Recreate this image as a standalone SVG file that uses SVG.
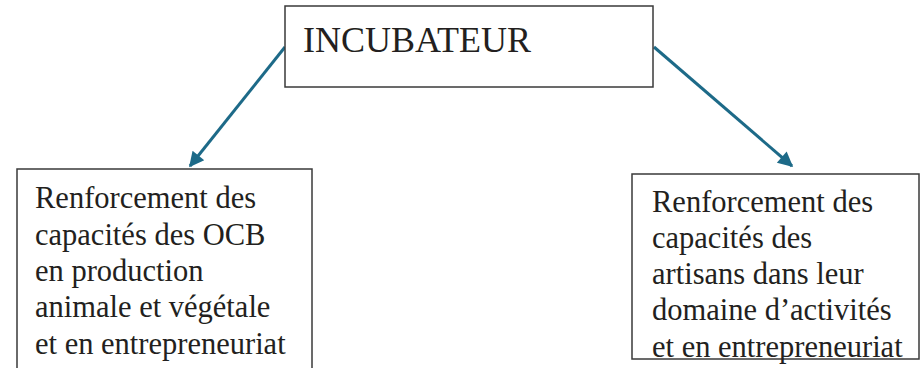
<svg xmlns="http://www.w3.org/2000/svg" width="920" height="368" viewBox="0 0 920 368">
  <style>
    .box { fill: #ffffff; stroke: #3a3a3a; stroke-width: 1.5; }
    .lbl { font-family: "Liberation Serif", "Times New Roman", serif; fill: #231f20; }
    .title { font-size: 36px; }
    .body { font-size: 30.5px; }
    .link { stroke: #1d6a88; stroke-width: 3; fill: none; marker-end: url(#head); }
  </style>
  <defs>
    <marker id="head" viewBox="0 0 10 10" refX="9" refY="5" markerWidth="5.5" markerHeight="5" orient="auto" markerUnits="strokeWidth">
      <path d="M0,0 L10,5 L0,10 Z" fill="#1d6a88"/>
    </marker>
  </defs>
  <rect width="920" height="368" fill="#ffffff"/>

  <g id="connectors">
    <line class="link" x1="285" y1="47" x2="190" y2="166"/>
    <line class="link" x1="654" y1="47" x2="792" y2="166"/>
  </g>

  <g id="incubateur">
    <rect class="box" x="285" y="6" width="368" height="81"/>
    <text class="lbl title" x="303" y="52">INCUBATEUR</text>
  </g>

  <g id="ocb">
    <rect class="box" x="17" y="169" width="295" height="210"/>
    <text class="lbl body" x="35">
      <tspan x="35" y="208">Renforcement des</tspan>
      <tspan x="35" y="244.5">capacités des OCB</tspan>
      <tspan x="35" y="281">en production</tspan>
      <tspan x="35" y="317">animale et végétale</tspan>
      <tspan x="35" y="353.5">et en entrepreneuriat</tspan>
    </text>
  </g>

  <g id="artisans">
    <rect class="box" x="632" y="174" width="287" height="185"/>
    <text class="lbl body" x="652">
      <tspan x="652" y="212">Renforcement des</tspan>
      <tspan x="652" y="248">capacités des</tspan>
      <tspan x="652" y="284">artisans dans leur</tspan>
      <tspan x="652" y="320">domaine d’activités</tspan>
      <tspan x="652" y="356.5">et en entrepreneuriat</tspan>
    </text>
  </g>
</svg>
